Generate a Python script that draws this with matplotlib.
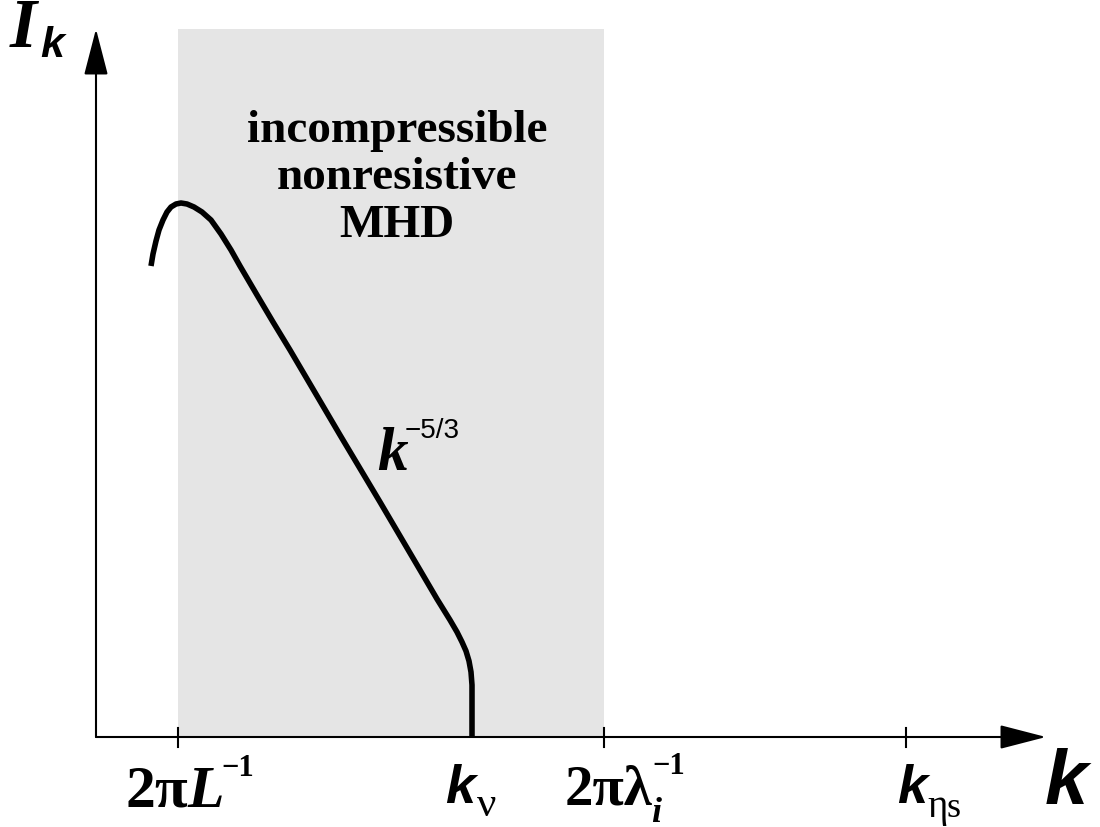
import matplotlib
matplotlib.use("Agg")
import matplotlib.pyplot as plt

# picture is a schematic, coordinates are read off the reference in pixels
# (x to the right, y downward), origin of the axes at (96, 738)
curve_x = [151, 153, 156, 159, 163, 167, 171, 176, 181, 187, 194, 202, 211, 221,
           231, 240, 257, 273, 290, 310, 340, 380, 420, 437, 450, 457, 462, 466,
           469, 471, 472, 472]
curve_y = [267, 255, 242, 231, 221, 213, 208, 205, 204, 205, 208, 213, 221, 235,
           251, 267, 296, 323, 351, 385, 436, 503, 571, 600, 621, 633, 643, 652,
           662, 673, 686, 738]

origin = (96, 738)
y_tip = 30
x_tip = 1046
band = (178, 604)          # incompressible nonresistive MHD range
tick_pos = [178, 604, 906]

region_lines = ["incompressible", "nonresistive", "MHD"]

SERIF = "Liberation Serif"
SANS = "Liberation Sans"

fig = plt.figure(figsize=(11, 8.28), dpi=100)
ax = fig.add_axes([0, 0, 1, 1])
ax.set_xlim(0, 1100)
ax.set_ylim(828, 0)
ax.axis("off")

# shaded band
ax.fill_between(band, y_tip, origin[1], color="#e5e5e5", lw=0, zorder=0)

# axes with arrows
arrow = dict(arrowstyle="-|>,head_length=2.9,head_width=0.75", mutation_scale=10,
             lw=1.5, color="black", shrinkA=0, shrinkB=0)
ax.annotate("", xy=(origin[0], y_tip), xytext=origin, arrowprops=arrow)
ax.annotate("", xy=(x_tip, origin[1]), xytext=origin, arrowprops=arrow)

for t in tick_pos:
    ax.plot([t, t], [origin[1] - 9, origin[1] + 10], color="black", lw=1.5)

# spectrum
ax.plot(curve_x, curve_y, color="black", lw=4.0, solid_capstyle="butt",
        solid_joinstyle="round", zorder=3)

# region label
for yb, s in zip([142, 189, 237], region_lines):
    ax.text(397, yb, s, ha="center", va="baseline", fontsize=34,
            family=SERIF, weight="bold")


def piece(x, y, s, size, family=SERIF, style="normal", weight="bold"):
    ax.text(x, y, s, ha="left", va="baseline", fontsize=size, family=family,
            style=style, weight=weight)


# I_k
piece(10, 47, "I", 50, style="italic")
piece(40, 57, "k", 31, family=SANS, style="italic")

# k^-5/3
piece(377, 470, "k", 44, style="italic")
piece(405, 438, "\u22125/3", 20, family=SANS, weight="normal")

# tick labels
piece(126, 807, "2\u03c0", 43)
piece(187, 807, "L", 43, style="italic")
piece(221, 776, "\u22121", 22)

piece(445, 803, "k", 39, family=SANS, style="italic")
piece(477, 816, "\u03bd", 31, weight="normal")

piece(565, 805, "2\u03c0\u03bb", 41)
piece(651, 822, "i", 26, style="italic")
piece(652, 774, "\u22121", 22)

piece(897, 803, "k", 39, family=SANS, style="italic")
piece(927, 817, "\u03b7", 28, weight="normal")
piece(947, 817, "s", 26, weight="normal")

piece(1045, 805, "k", 56, family=SANS, style="italic")

fig.savefig("out.png", dpi=100)
